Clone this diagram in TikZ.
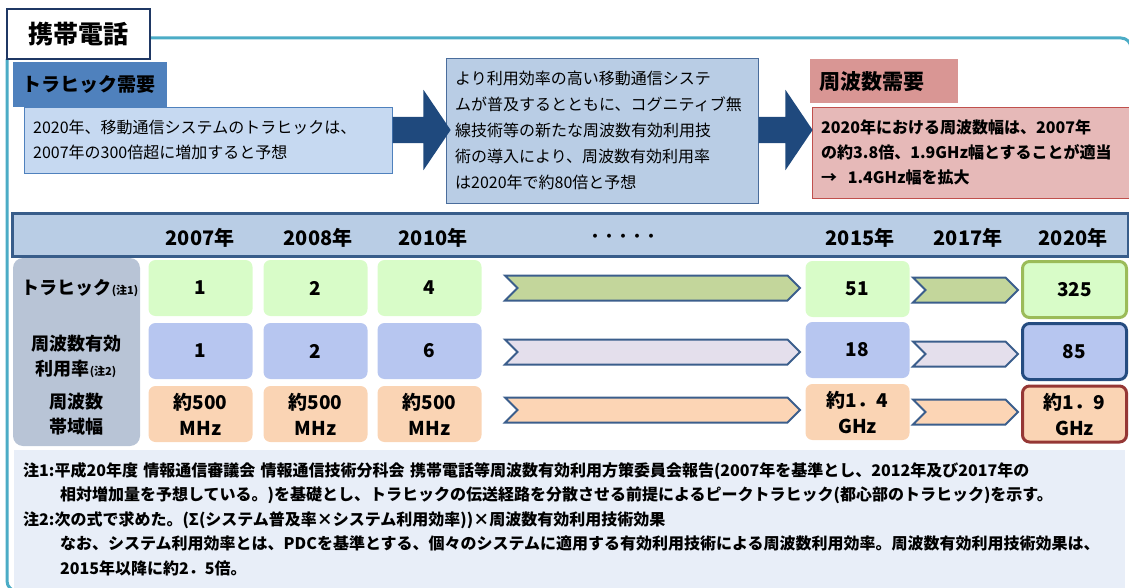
\documentclass[tikz,border=0pt]{standalone}
\usepackage{fontspec}
\setmainfont{Noto Sans CJK JP}
\usetikzlibrary{shapes.arrows,shapes.symbols}

\definecolor{frameteal}{HTML}{4BACC6}
\definecolor{titlenavy}{HTML}{1F3864}
\definecolor{hdrblue}{HTML}{4F81BD}
\definecolor{trafbg}{HTML}{C6D9F1}
\definecolor{arrowblue}{HTML}{1F497D}
\definecolor{policybg}{HTML}{B9CDE5}
\definecolor{policyline}{HTML}{4A6D9C}
\definecolor{hdrred}{HTML}{D99694}
\definecolor{freqbg}{HTML}{E6B9B8}
\definecolor{freqline}{HTML}{C0504D}
\definecolor{bandline}{HTML}{385D8A}
\definecolor{labelbg}{HTML}{B8C4D6}
\definecolor{greencell}{HTML}{D8FCC8}
\definecolor{bluecell}{HTML}{B7C6F0}
\definecolor{peachcell}{HTML}{FAD4B4}
\definecolor{chevline}{HTML}{3B5E8C}
\definecolor{chevgreen}{HTML}{C3D69B}
\definecolor{chevlilac}{HTML}{E4DFEC}
\definecolor{chevpeach}{HTML}{FCD5B5}
\definecolor{olive}{HTML}{9BBB59}
\definecolor{darknavy}{HTML}{254C80}
\definecolor{darkred}{HTML}{953735}
\definecolor{notebg}{HTML}{E8EEF8}

\tikzstyle{textbox}=[rectangle,anchor=north west,inner xsep=9pt,inner ysep=0pt,align=left]
\tikzstyle{cell}=[rectangle,rounded corners=7pt,minimum width=104pt,minimum height=56pt,inner sep=0pt,align=center,font=\bfseries\fontsize{19}{26}\selectfont]
\tikzstyle{lastcell}=[cell,line width=3pt]
\tikzstyle{chev}=[signal,signal to=east,signal from=west,draw=chevline,line width=2pt,minimum height=25pt,inner sep=0pt]
\tikzstyle{bigarrow}=[single arrow,fill=arrowblue,anchor=tail,single arrow head extend=27pt,single arrow tip angle=112,inner sep=13pt]
\tikzstyle{year}=[font=\bfseries\fontsize{20}{22}\selectfont]
\tikzstyle{rowlabel}=[align=center,font=\bfseries\fontsize{18}{25}\selectfont]
\newcommand{\notemark}[1]{{\fontsize{11}{11}\selectfont(#1)}}

\begin{document}
\begin{tikzpicture}[x=1pt,y=-1pt]
	\useasboundingbox (0,0) rectangle (1129,588);

	% First the teal frame and its title
	\draw[frameteal,line width=3pt,rounded corners=10pt] (150,38) -- (1131,38) -- (1131,600);
	\draw[frameteal,line width=3pt,rounded corners=10pt] (7,59) -- (7,591) -- (40,591);
	\node[draw=titlenavy,line width=2.5pt,fill=white,minimum width=143pt,minimum height=50pt,
		font=\bfseries\fontsize{25}{28}\selectfont] (title) at (78.5,34) {携帯電話};

	% The three boxes on top
	\node[textbox,fill=hdrblue,text width=136pt,minimum height=45pt,font=\bfseries\fontsize{19}{24}\selectfont]
		(trafhead) at (13,62) {トラヒック需要};
	\node[textbox,draw=hdrblue,fill=trafbg,text width=350pt,minimum height=66pt,font=\fontsize{16}{25}\selectfont]
		(trafbox) at (24,107) {2020年、移動通信システムのトラヒックは、\\2007年の300倍超に増加すると予想};
	\node[textbox,draw=policyline,fill=policybg,text width=294pt,minimum height=145pt,font=\fontsize{16}{26}\selectfont]
		(policy) at (446,58) {より利用効率の高い移動通信システ\\ムが普及するとともに、コグニティブ無\\線技術等の新たな周波数有効利用技\\術の導入により、周波数有効利用率\\は2020年で約80倍と予想};
	\node[textbox,fill=hdrred,text width=130pt,minimum height=44pt,font=\bfseries\fontsize{21}{24}\selectfont]
		(freqhead) at (810,59) {周波数需要};
	\node[textbox,draw=freqline,fill=freqbg,text width=302pt,minimum height=91pt,font=\bfseries\fontsize{16}{25}\selectfont]
		(freqbox) at (812,107) {2020年における周波数幅は、2007年\\の約3.8倍、1.9GHz幅とすることが適当\\→ \ 1.4GHz幅を拡大};

	% Block arrows between the boxes
	\node[bigarrow,minimum height=58pt] (arrA) at (trafbox.east |- 0,130) {};
	\node[bigarrow,minimum height=54pt] (arrB) at (policy.east |- 0,130) {};

	% The table header
	\node[draw=bandline,line width=3pt,fill=policybg,minimum width=1116pt,minimum height=43pt,inner sep=0pt] (band) at (570,234.5) {};
	\foreach \x/\yr/\name in {200/2007年/ya, 318/2008年/yb, 433/2010年/yc, 860/2015年/yd, 968/2017年/ye, 1073/2020年/yf}
		\node[year] (\name) at (\x,238) {\yr};
	\node[font=\bfseries\fontsize{14}{14}\selectfont] (dots) at (623,238) {・・・・・};

	% Row labels
	\node[rectangle,rounded corners=10pt,fill=labelbg,minimum width=127pt,minimum height=188pt] (labels) at (76.5,352) {};
	\node[rowlabel] (labA) at (80,288) {トラヒック\notemark{注1}};
	\node[rowlabel] (labB) at (76,356) {周波数有効\\利用率\notemark{注2}};
	\node[rowlabel] (labC) at (76,414) {周波数\\帯域幅};

	% The cells, row by row
	\foreach \pos/\name/\val in {{(200.5,288)/ta/1}, {(315.5,288)/tb/2}, {(429.5,288)/tc/4}, {(857.5,289)/td/51}}
		\node[cell,fill=greencell] (\name) at \pos {\val};
	\node[lastcell,fill=greencell,draw=olive] (te) at (1074.5,289.5) {325};

	\foreach \pos/\name/\val in {{(200.5,351)/sa/1}, {(315.5,351)/sb/2}, {(429.5,351)/sc/6}, {(857.5,350)/sd/18}}
		\node[cell,fill=bluecell] (\name) at \pos {\val};
	\node[lastcell,fill=bluecell,draw=darknavy] (se) at (1074.5,351.5) {85};

	\foreach \pos/\name/\val in {{(200.5,414)/ba/約500\\MHz}, {(315.5,414)/bb/約500\\MHz}, {(429.5,414)/bc/約500\\MHz}, {(857.5,412)/bd/約1．4\\GHz}}
		\node[cell,fill=peachcell] (\name) at \pos {\val};
	\node[lastcell,fill=peachcell,draw=darkred] (be) at (1074.5,414) {約1．9\\GHz};

	% Chevrons between the years
	\foreach \y/\col/\name in {288/chevgreen/A, 352/chevlilac/B, 410/chevpeach/C} {
		\node[chev,fill=\col,minimum width=295pt] (long\name) at (652.5,\y) {};
		\node[chev,fill=\col,minimum width=105pt] (short\name) at (965.5,\y+2) {};
	}

	% Notes
	\node[textbox,fill=notebg,text width=1093pt,minimum height=138pt,font=\bfseries\fontsize{16}{24.5}\selectfont]
		(notes) at (14,450) {注1:平成20年度 情報通信審議会 情報通信技術分科会 携帯電話等周波数有効利用方策委員会報告(2007年を基準とし、2012年及び2017年の\\
		\hspace*{37pt}相対増加量を予想している。)を基礎とし、トラヒックの伝送経路を分散させる前提によるピークトラヒック(都心部のトラヒック)を示す。\\
		注2:次の式で求めた。(Σ(システム普及率×システム利用効率))×周波数有効利用技術効果\\
		\hspace*{37pt}なお、システム利用効率とは、PDCを基準とする、個々のシステムに適用する有効利用技術による周波数利用効率。周波数有効利用技術効果は、\\
		\hspace*{37pt}2015年以降に約2．5倍。};
\end{tikzpicture}
\end{document}
